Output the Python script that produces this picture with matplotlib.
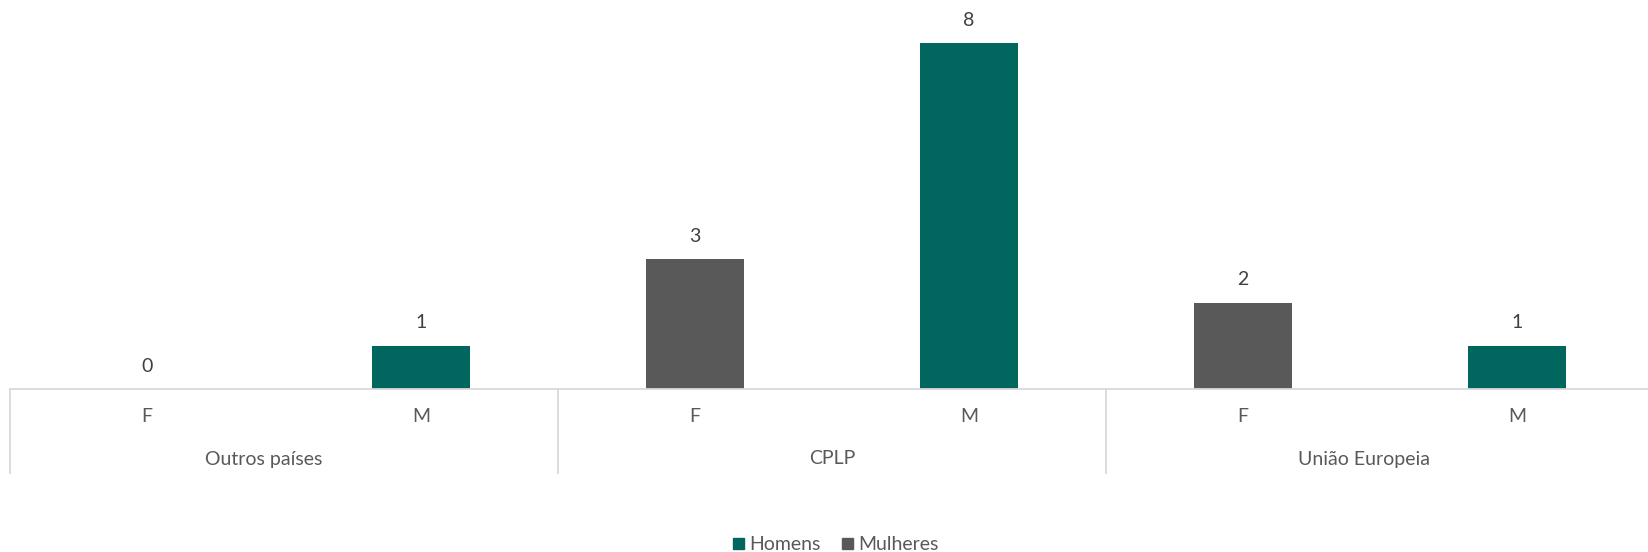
import numpy as np
import matplotlib
matplotlib.use("Agg")
import matplotlib.pyplot as plt
from matplotlib.lines import Line2D
from matplotlib.patches import Patch

# data: residents by origin and sex
groups = ["Outros países", "CPLP", "União Europeia"]
sexes = ["F", "M", "F", "M", "F", "M"]
homens = [np.nan, 1, np.nan, 8, np.nan, 1]
mulheres = [0, np.nan, 3, np.nan, 2, np.nan]

teal = "#00665E"
grey = "#595959"
txt = "#595959"
lbl = "#404040"
grid = "#D9D9D9"

plt.rcParams["font.family"] = ["Lato", "DejaVu Sans"]
fs = 14

W, H = 1648, 552
fig = plt.figure(figsize=(W / 100, H / 100), dpi=100)
base_y = 389
left, right = 10, 1654
ax = fig.add_axes([left / W, (H - base_y) / H, (right - left) / W, base_y / H])

x = np.arange(len(sexes))
bw = 0.357
ax.bar(x, homens, width=bw, color=teal, linewidth=0, label="Homens", zorder=2)
ax.bar(x, mulheres, width=bw, color=grey, linewidth=0, label="Mulheres", zorder=2)

ax.set_xlim(-0.5, len(sexes) - 0.5)
ax.set_ylim(0, 9)
ax.set_yticks([])
ax.set_xticks([])
for s in ["top", "right", "left"]:
    ax.spines[s].set_visible(False)
ax.spines["bottom"].set_color(grid)
ax.spines["bottom"].set_linewidth(1.3)

# value labels
for xi, (h, m) in enumerate(zip(homens, mulheres)):
    v = h if not np.isnan(h) else m
    ax.annotate(f"{int(v)}", (xi, v), xytext=(0, 16.5), textcoords="offset points",
                ha="center", va="center", fontsize=fs, color=lbl)

# two-level category axis
px = 1 / base_y
trans = ax.get_xaxis_transform()
for xi, s in enumerate(sexes):
    ax.text(xi, -(416 - base_y) * px, s, transform=trans, ha="center", va="center",
            fontsize=fs, color=txt)
group_nudge = [-0.073, 0.0, -0.058]
for gi, g in enumerate(groups):
    ax.text(gi * 2 + 0.5 + group_nudge[gi], -(459 - base_y) * px, g, transform=trans,
            ha="center", va="center", fontsize=fs, color=txt)
for b in [-0.5, 1.5, 3.5]:
    ax.add_line(Line2D([b, b], [0, -(473 - base_y) * px], transform=trans,
                       color=grid, lw=1.3, clip_on=False))

handles = [Patch(color=teal, label="Homens"), Patch(color=grey, label="Mulheres")]
fig.legend(handles=handles, loc="center", bbox_to_anchor=(836 / W, 1 - 545 / H),
           ncol=2, frameon=False, fontsize=fs, labelcolor=txt,
           handlelength=0.55, handleheight=0.55, handletextpad=0.3, columnspacing=1.1)

fig.savefig("out.png", dpi=100)
